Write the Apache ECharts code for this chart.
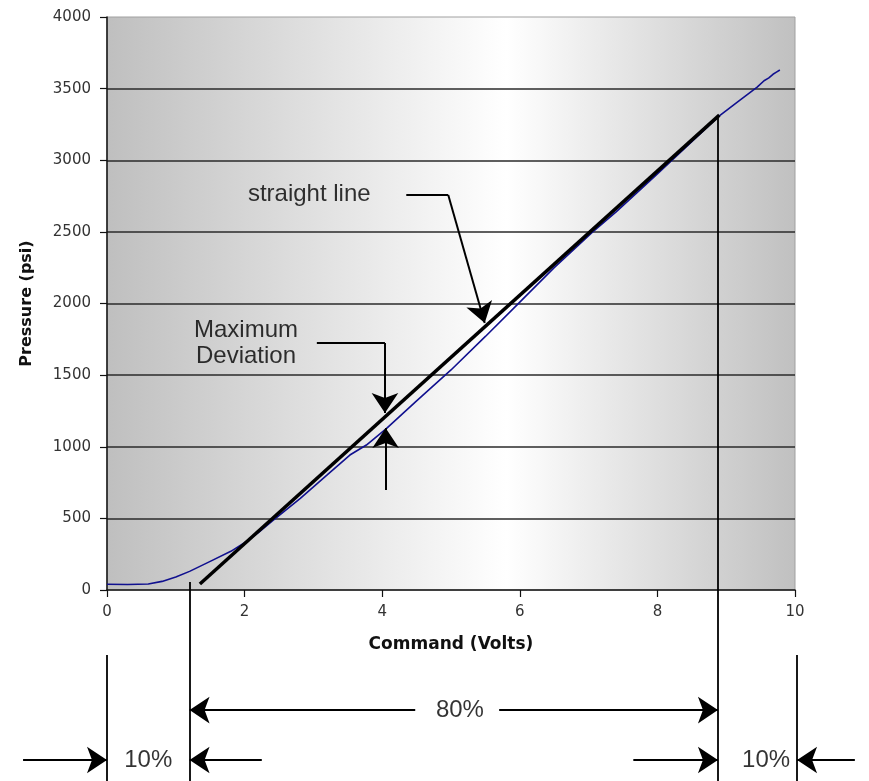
<!DOCTYPE html>
<html>
<head>
<meta charset="utf-8">
<script src="https://cdn.jsdelivr.net/npm/echarts@6/dist/echarts.min.js"></script>
<style>
  html, body { margin: 0; padding: 0; background: #fff; }
  #main { width: 869px; height: 781px; }
</style>
</head>
<body>
<div id="main"></div>
<script>
// measured pressure vs command voltage (blue trace)
const volts = [0, 0.3, 0.6, 0.8, 1.0, 1.2, 1.5, 1.8, 2.0, 2.2, 2.4, 2.81, 3.2, 3.53, 3.77, 4.06, 4.5, 5.0, 5.5, 6.0, 6.5, 7.06, 7.4, 8.0, 8.5, 8.9, 9.2, 9.45, 9.55, 9.62, 9.68, 9.73, 9.78];
const pressure = [40, 38, 42, 60, 90, 130, 200, 270, 330, 400, 480, 640, 803, 942, 1012, 1127, 1320, 1536, 1770, 2010, 2250, 2499, 2640, 2905, 3130, 3310, 3420, 3510, 3555, 3575, 3600, 3615, 3630];

// best fit straight line
const fitVolts = [1.35, 8.9];
const fitPressure = [42, 3315];

// axis ticks
const xTicks = [0, 10, 2];
const yTicks = [0, 4000, 500];

// annotation leaders (volts, psi): the bent part and the arrow part
const straightBend = [[4.35, 2757], [4.96, 2757]];
const straightArrow = [[4.96, 2757], [5.49, 1864]];
const deviationBend = [[3.05, 1724], [4.04, 1724]];
const deviationDown = [[4.04, 1724], [4.04, 1236]];
const deviationUp = [[4.05, 698], [4.05, 1131]];

// guide lines under the chart
const guides = [
  [[0, -454], [0, -1345]],
  [[1.2, 56], [1.2, -1345]],
  [[8.88, 3315], [8.88, -1345]],
  [[10.03, -454], [10.03, -1345]]
];
const dimArrows = [
  [[4.48, -838], [1.2, -838]],
  [[5.7, -838], [8.88, -838]],
  [[-1.22, -1187], [0, -1187]],
  [[2.25, -1187], [1.2, -1187]],
  [[7.65, -1187], [8.88, -1187]],
  [[10.87, -1187], [10.03, -1187]]
];

const notes = [
  { value: [2.94, 2764], text: 'straight line' },
  { value: [2.02, 1724], text: 'Maximum\nDeviation' },
  { value: [5.13, -838], text: '80%' },
  { value: [0.6, -1187], text: '10%' },
  { value: [9.58, -1187], text: '10%' }
];

var myChart = echarts.init(document.getElementById('main'));

var pairs = function (xs, ys) {
  return xs.map(function (x, i) { return [x, ys[i]]; });
};

var option = {
  animation: false,
  grid: {
    left: 107,
    right: 74,
    top: 17,
    bottom: 191,
    show: true,
    borderColor: '#a0a0a0',
    borderWidth: 1,
    backgroundColor: {
      type: 'linear', x: 0, y: 0, x2: 1, y2: 0,
      colorStops: [
        { offset: 0, color: '#bfbfbf' },
        { offset: 0.58, color: '#ffffff' },
        { offset: 1, color: '#c0c0c0' }
      ]
    }
  },
  xAxis: {
    type: 'value',
    min: xTicks[0],
    max: xTicks[1],
    interval: xTicks[2],
    name: 'Command (Volts)',
    nameLocation: 'middle',
    nameGap: 46,
    nameTextStyle: { fontFamily: 'DejaVu Sans', fontWeight: 'bold', fontSize: 17, color: '#111' },
    axisLine: { lineStyle: { color: '#111', width: 1.5 } },
    axisTick: { show: true, length: 7, lineStyle: { color: '#111', width: 1.2 } },
    axisLabel: { margin: 15, fontFamily: 'DejaVu Sans', fontSize: 15, color: '#333' },
    splitLine: { show: false }
  },
  yAxis: {
    type: 'value',
    min: yTicks[0],
    max: yTicks[1],
    interval: yTicks[2],
    name: 'Pressure (psi)',
    nameLocation: 'middle',
    nameGap: 72,
    nameTextStyle: { fontFamily: 'DejaVu Sans', fontWeight: 'bold', fontSize: 16, color: '#111' },
    axisLine: { show: true, lineStyle: { color: '#111', width: 1.5 } },
    axisTick: { show: true, length: 7, lineStyle: { color: '#111', width: 1.2 } },
    axisLabel: {
      margin: 16, fontFamily: 'DejaVu Sans', fontSize: 15, color: '#333',
      formatter: function (v) { return String(v); }
    },
    splitLine: { show: true, showMinLine: false, showMaxLine: false, lineStyle: { color: '#2a2a2a', width: 1.5 } }
  },
  series: [
    {
      name: 'measured',
      type: 'line',
      data: pairs(volts, pressure),
      showSymbol: false,
      symbol: 'none',
      lineStyle: { color: '#10108f', width: 1.6 },
      z: 3
    },
    {
      name: 'straight line',
      type: 'line',
      data: pairs(fitVolts, fitPressure),
      showSymbol: false,
      symbol: 'none',
      lineStyle: { color: '#000', width: 3.5 },
      z: 4
    },
    {
      name: 'plain',
      type: 'lines',
      coordinateSystem: 'cartesian2d',
      clip: false,
      silent: true,
      symbol: 'none',
      lineStyle: { color: '#000', width: 1.8, opacity: 1 },
      data: guides.concat([straightBend, deviationBend]).map(function (c) { return { coords: c }; }),
      z: 5
    },
    {
      name: 'arrows',
      type: 'lines',
      coordinateSystem: 'cartesian2d',
      clip: false,
      silent: true,
      symbol: ['none', 'arrow'],
      symbolSize: 20,
      lineStyle: { color: '#000', width: 2, opacity: 1 },
      data: [straightArrow, deviationDown, deviationUp].concat(dimArrows).map(function (c) { return { coords: c }; }),
      z: 6
    },
    {
      name: 'notes',
      type: 'scatter',
      symbolSize: 1,
      silent: true,
      clip: false,
      itemStyle: { color: 'transparent' },
      data: notes.map(function (n) { return { value: n.value, name: n.text }; }),
      label: {
        show: true,
        position: 'inside',
        formatter: '{b}',
        fontFamily: 'Liberation Sans',
        fontSize: 24,
        lineHeight: 26,
        color: '#000',
        textBorderWidth: 0,
        textBorderColor: 'transparent',
        align: 'center',
        verticalAlign: 'middle'
      },
      z: 7
    }
  ]
};

option && myChart.setOption(option);
</script>
</body>
</html>
